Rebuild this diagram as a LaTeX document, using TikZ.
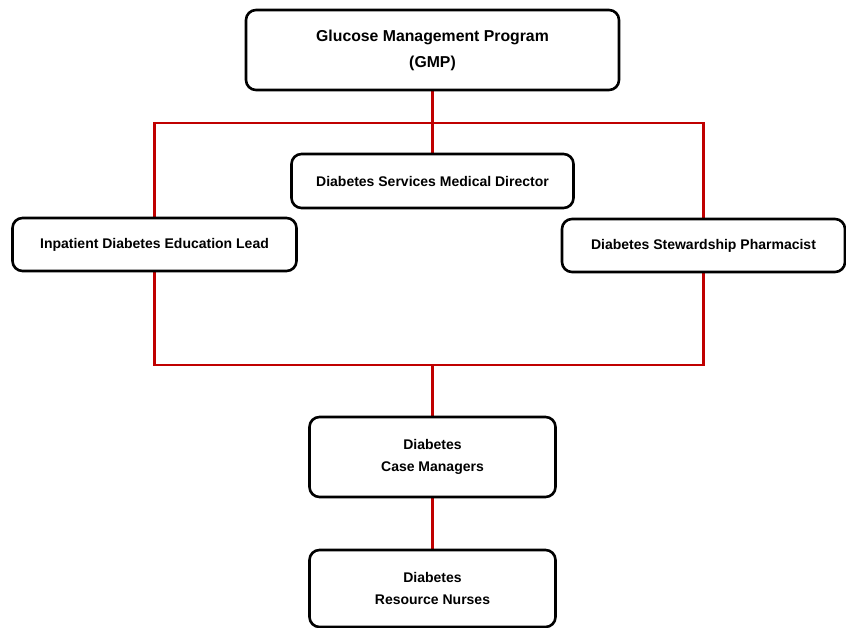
\documentclass[tikz,border=0pt]{standalone}
\usepackage{fontspec}
\setmainfont{Liberation Sans}
\usetikzlibrary{backgrounds}
\begin{document}
\begin{tikzpicture}[x=1pt,y=1pt,
  box/.style={draw=black, line width=2.6pt, rounded corners=10pt, fill=white, align=center, font=\bfseries\fontsize{14}{22}\selectfont, inner sep=0pt},
  link/.style={draw=linkred, line width=2.6pt}]
\definecolor{linkred}{HTML}{C00000}
\useasboundingbox (0,0) rectangle (846,-628);
\coordinate (hb) at (432.5,-123);
\coordinate (lb) at (432.5,-365);
\node[box, minimum width=373, minimum height=80, font=\bfseries\fontsize{15.8}{26}\selectfont] (gmp) at (432.5,-50) {Glucose Management Program\\(GMP)};
\node[box, minimum width=282, minimum height=54] (dir) at (432.5,-181) {Diabetes Services Medical Director};
\node[box, minimum width=284, minimum height=53] (inp) at (154.5,-244.5) {Inpatient Diabetes Education Lead};
\node[box, minimum width=283, minimum height=53] (ph) at (703.5,-245.5) {Diabetes Stewardship Pharmacist};
\node[box, minimum width=246, minimum height=80] (cm) at (432.5,-457) {Diabetes\\Case Managers};
\node[box, minimum width=246, minimum height=77] (rn) at (432.5,-588.5) {Diabetes\\Resource Nurses};
\begin{pgfonlayer}{background}
\draw[link] (gmp.south) -- (dir.north);
\draw[link] (inp.north) |- (hb) -| (ph.north);
\draw[link] (inp.south) |- (lb) -| (ph.south);
\draw[link] (lb) -- (cm.north);
\draw[link] (cm.south) -- (rn.north);
\end{pgfonlayer}
\end{tikzpicture}
\end{document}
